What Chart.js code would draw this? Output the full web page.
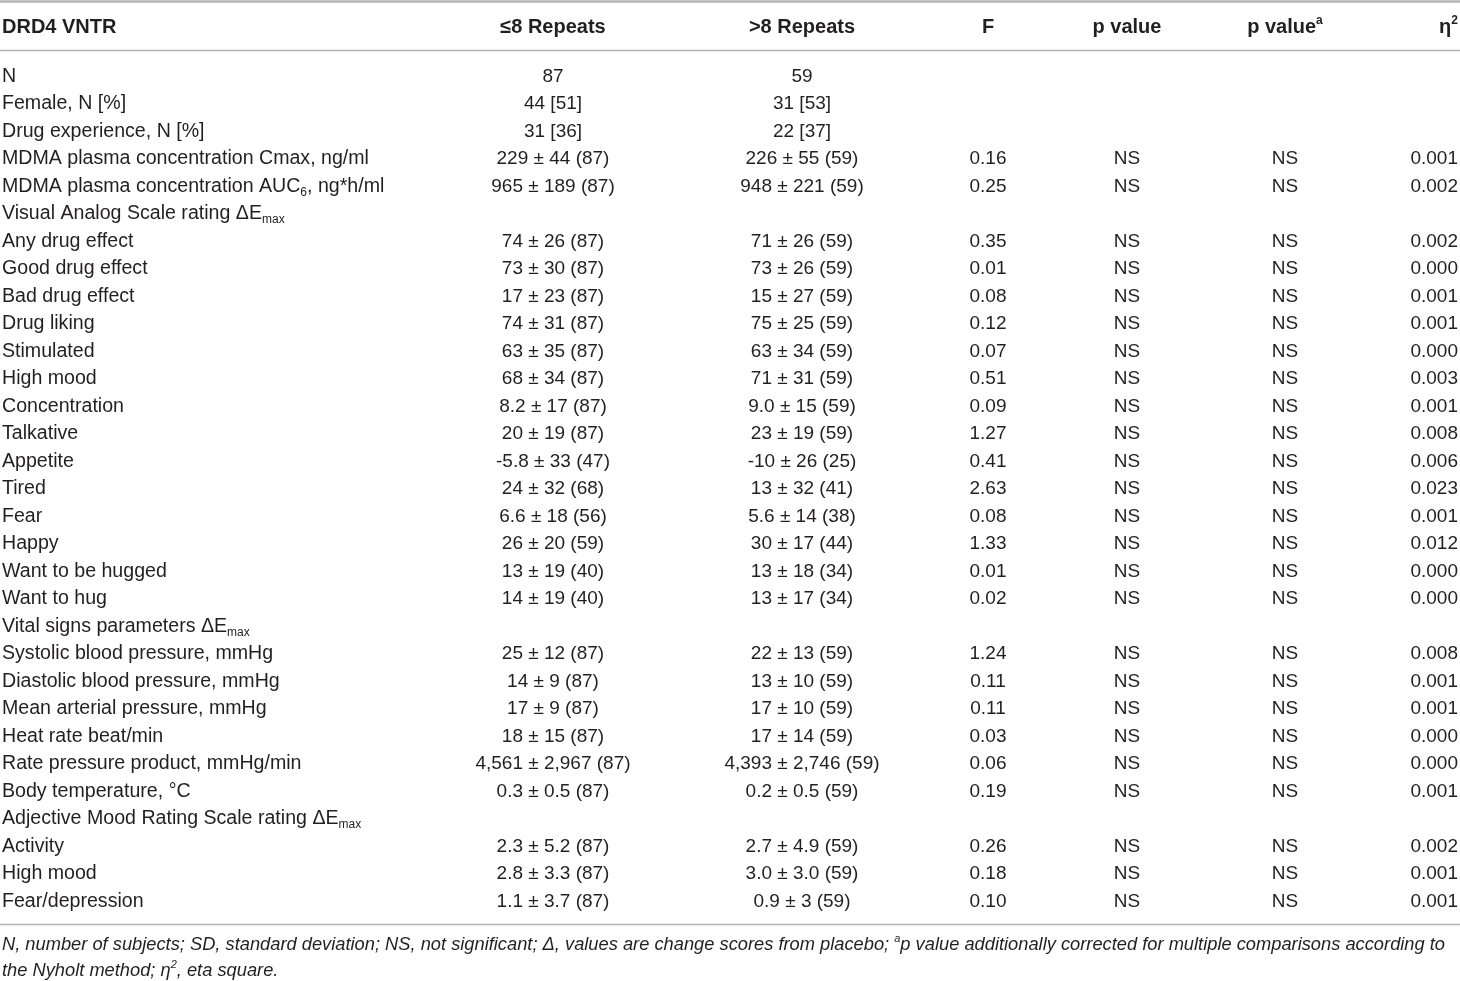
<!DOCTYPE html>
<html>
<head>
<meta charset="utf-8">
<script src="https://cdn.jsdelivr.net/npm/chart.js@4.4.0/dist/chart.umd.min.js"></script>
<style>
  html, body { margin: 0; padding: 0; background: #ffffff; }
  #tabla { display: block; }
</style>
</head>
<body>
<canvas id="tabla" width="1460" height="981"></canvas>
<script>
// ===== DRD4 VNTR - tabla dibujada con Chart.js =====

// Encabezados de columna
const encabezados = ['DRD4 VNTR', '≤8 Repeats', '>8 Repeats', 'F', 'p value', 'p value^{a}', 'η^{2}'];

// Etiquetas de fila (_{..} subíndice, ^{..} superíndice)
const filas = [
    'N',
    'Female, N [%]',
    'Drug experience, N [%]',
    'MDMA plasma concentration Cmax, ng/ml',
    'MDMA plasma concentration AUC_{6}, ng*h/ml',
    'Visual Analog Scale rating ΔE_{max}',
    'Any drug effect',
    'Good drug effect',
    'Bad drug effect',
    'Drug liking',
    'Stimulated',
    'High mood',
    'Concentration',
    'Talkative',
    'Appetite',
    'Tired',
    'Fear',
    'Happy',
    'Want to be hugged',
    'Want to hug',
    'Vital signs parameters ΔE_{max}',
    'Systolic blood pressure, mmHg',
    'Diastolic blood pressure, mmHg',
    'Mean arterial pressure, mmHg',
    'Heat rate beat/min',
    'Rate pressure product, mmHg/min',
    'Body temperature, °C',
    'Adjective Mood Rating Scale rating ΔE_{max}',
    'Activity',
    'High mood',
    'Fear/depression'
];

// ≤8 repeticiones
const repeats8 = [
    '87', '44 [51]', '31 [36]', '229 ± 44 (87)', '965 ± 189 (87)', '',
    '74 ± 26 (87)', '73 ± 30 (87)', '17 ± 23 (87)', '74 ± 31 (87)', '63 ± 35 (87)',
    '68 ± 34 (87)', '8.2 ± 17 (87)', '20 ± 19 (87)', '-5.8 ± 33 (47)', '24 ± 32 (68)',
    '6.6 ± 18 (56)', '26 ± 20 (59)', '13 ± 19 (40)', '14 ± 19 (40)', '',
    '25 ± 12 (87)', '14 ± 9 (87)', '17 ± 9 (87)', '18 ± 15 (87)', '4,561 ± 2,967 (87)',
    '0.3 ± 0.5 (87)', '', '2.3 ± 5.2 (87)', '2.8 ± 3.3 (87)', '1.1 ± 3.7 (87)'
];

// >8 repeticiones
const repeatsMas8 = [
    '59', '31 [53]', '22 [37]', '226 ± 55 (59)', '948 ± 221 (59)', '',
    '71 ± 26 (59)', '73 ± 26 (59)', '15 ± 27 (59)', '75 ± 25 (59)', '63 ± 34 (59)',
    '71 ± 31 (59)', '9.0 ± 15 (59)', '23 ± 19 (59)', '-10 ± 26 (25)', '13 ± 32 (41)',
    '5.6 ± 14 (38)', '30 ± 17 (44)', '13 ± 18 (34)', '13 ± 17 (34)', '',
    '22 ± 13 (59)', '13 ± 10 (59)', '17 ± 10 (59)', '17 ± 14 (59)', '4,393 ± 2,746 (59)',
    '0.2 ± 0.5 (59)', '', '2.7 ± 4.9 (59)', '3.0 ± 3.0 (59)', '0.9 ± 3 (59)'
];

// Estadístico F
const valoresF = [
    null, null, null, 0.16, 0.25, null,
    0.35, 0.01, 0.08, 0.12, 0.07, 0.51, 0.09, 1.27, 0.41, 2.63, 0.08, 1.33, 0.01, 0.02, null,
    1.24, 0.11, 0.11, 0.03, 0.06, 0.19, null, 0.26, 0.18, 0.10
];

// p value y p value corregido
const valoresP = valoresF.map(f => f === null ? '' : 'NS');
const valoresPa = valoresF.map(f => f === null ? '' : 'NS');

// Eta cuadrado
const valoresEta = [
    null, null, null, 0.001, 0.002, null,
    0.002, 0.000, 0.001, 0.001, 0.000, 0.003, 0.001, 0.008, 0.006, 0.023, 0.001, 0.012, 0.000, 0.000, null,
    0.008, 0.001, 0.001, 0.000, 0.000, 0.001, null, 0.002, 0.001, 0.001
];

// Nota al pie
const notas = [
    'N, number of subjects; SD, standard deviation; NS, not significant; Δ, values are change scores from placebo; ^{a}p value additionally corrected for multiple comparisons according to',
    'the Nyholt method; η^{2}, eta square.'
];

const FUENTE = '"Liberation Sans", Arial, sans-serif';
const COLOR_TEXTO = '#231f20';
const COLOR_LINEA = '#b4b4b4';

// Dibujar texto con subíndices y superíndices
function partesTexto(texto) {
    const partes = [];
    const re = /([_^])\{([^}]*)\}/g;
    let ultimo = 0, m;
    while ((m = re.exec(texto)) !== null) {
        if (m.index > ultimo) partes.push({ t: texto.slice(ultimo, m.index), tipo: '' });
        partes.push({ t: m[2], tipo: m[1] });
        ultimo = re.lastIndex;
    }
    if (ultimo < texto.length) partes.push({ t: texto.slice(ultimo), tipo: '' });
    return partes;
}

function fuentePara(estilo, tam, tipo) {
    const t = tipo ? Math.round(tam * 0.62) : tam;
    return estilo + ' ' + t + 'px ' + FUENTE;
}

function dibujarRico(ctx, texto, x, y, alinear, estilo, tam) {
    const partes = partesTexto(texto);
    let ancho = 0;
    partes.forEach(p => {
        ctx.font = fuentePara(estilo, tam, p.tipo);
        p.w = ctx.measureText(p.t).width;
        ancho += p.w;
    });
    let cx = x;
    if (alinear === 'center') cx = x - ancho / 2;
    if (alinear === 'right') cx = x - ancho;
    ctx.textAlign = 'left';
    ctx.textBaseline = 'middle';
    partes.forEach(p => {
        ctx.font = fuentePara(estilo, tam, p.tipo);
        let dy = 0;
        if (p.tipo === '_') dy = tam * 0.3;
        if (p.tipo === '^') dy = -tam * 0.3;
        ctx.fillText(p.t, cx, y + dy + 1.5);
        cx += p.w;
    });
}

// Columnas: posición (en px del eje x), alineación y tamaño de letra
const columnas = [
    { x: 2, alinear: 'left', tam: 19.6 },
    { x: 553, alinear: 'center', tam: 19 },
    { x: 802, alinear: 'center', tam: 19 },
    { x: 988, alinear: 'center', tam: 19 },
    { x: 1127, alinear: 'center', tam: 19 },
    { x: 1285, alinear: 'center', tam: 19 },
    { x: 1458, alinear: 'right', tam: 19 }
];

function valorCelda(col, i) {
    switch (col) {
        case 0: return filas[i];
        case 1: return repeats8[i];
        case 2: return repeatsMas8[i];
        case 3: return valoresF[i] === null ? '' : valoresF[i].toFixed(2);
        case 4: return valoresP[i];
        case 5: return valoresPa[i];
        case 6: return valoresEta[i] === null ? '' : valoresEta[i].toFixed(3);
    }
    return '';
}

const pluginTabla = {
    id: 'pluginTabla',
    afterDraw(chart) {
        const ctx = chart.ctx;
        const x = chart.scales.x;
        const y = chart.scales.y;
        ctx.save();

        // Líneas horizontales
        ctx.strokeStyle = COLOR_LINEA;
        ctx.lineWidth = 2.5;
        ctx.beginPath(); ctx.moveTo(0, 1.5); ctx.lineTo(1460, 1.5); ctx.stroke();
        ctx.lineWidth = 1.5;
        ctx.beginPath(); ctx.moveTo(0, 50.5); ctx.lineTo(1460, 50.5); ctx.stroke();
        ctx.beginPath(); ctx.moveTo(0, 924.5); ctx.lineTo(1460, 924.5); ctx.stroke();

        ctx.fillStyle = COLOR_TEXTO;

        // Encabezados
        encabezados.forEach((h, c) => {
            dibujarRico(ctx, h, x.getPixelForValue(columnas[c].x), 25.5, columnas[c].alinear, 'bold', 20);
        });

        // Celdas
        filas.forEach((f, i) => {
            const py = y.getPixelForValue(i);
            columnas.forEach((col, c) => {
                const v = valorCelda(c, i);
                if (v) dibujarRico(ctx, v, x.getPixelForValue(col.x), py, col.alinear, 'normal', col.tam);
            });
        });

        // Nota al pie
        notas.forEach((n, k) => {
            dibujarRico(ctx, n, 2, 943 + k * 26, 'left', 'italic', 18.3);
        });

        ctx.restore();
    }
};

document.addEventListener('DOMContentLoaded', function() {
    new Chart(document.getElementById('tabla'), {
        type: 'scatter',
        data: {
            labels: filas,
            datasets: [{
                data: [],
                pointRadius: 0
            }]
        },
        options: {
            responsive: false,
            animation: false,
            devicePixelRatio: 1,
            layout: {
                padding: { top: 61.25, bottom: 67.25, left: 0, right: 0 }
            },
            plugins: {
                legend: { display: false },
                tooltip: { enabled: false }
            },
            scales: {
                x: { type: 'linear', min: 0, max: 1460, display: false },
                y: { type: 'category', labels: filas, offset: true, display: false }
            }
        },
        plugins: [pluginTabla]
    });
});
</script>
</body>
</html>
